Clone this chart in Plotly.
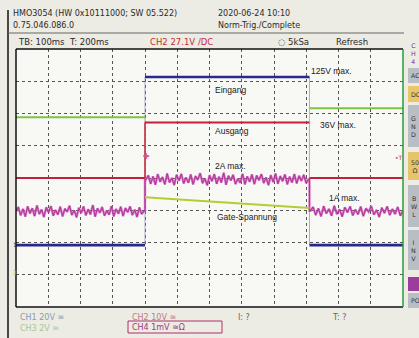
import numpy as np
import plotly.graph_objects as go

# ---------------- data (screen divisions, time in ms) ----------------
t_range = [-400, 800]          # 12 div x 100 ms
t_on, t_off = 0, 510

eingang_t = [-400, t_on, t_on, t_off, t_off, 800]
eingang_y = [1.92, 1.92, 7.13, 7.13, 1.92, 1.92]

ausgang_t = [-400, t_on, t_on, t_off, t_off, 800]
ausgang_y = [4.00, 4.00, 5.72, 5.72, 4.00, 4.00]

gate_t = [-400, t_on, t_on, t_off, t_off, 800]
gate_y = [5.88, 5.88, 3.40, 3.07, 6.16, 6.16]

strom_left = [2.97, 3.10, 2.84, 3.04, 2.80, 3.12, 2.90, 3.06, 2.82, 3.15, 2.88, 3.02, 2.79, 3.09, 2.93, 3.13, 2.83, 3.01, 2.86, 3.11,
              2.81, 3.05, 2.95, 3.14, 2.85, 3.00, 2.78, 3.08, 2.91, 3.12, 2.84, 3.03, 2.87, 3.16, 2.80, 3.06, 2.92, 3.10, 2.83, 2.99,
              2.86, 3.13, 2.81, 3.04, 2.89, 3.11, 2.82, 3.07, 2.94, 3.12, 2.85, 3.02, 2.79, 3.09, 2.88, 2.98]
strom_pulse = [3.95, 4.08, 3.82, 4.05, 3.79, 4.12, 3.88, 4.03, 3.80, 4.14, 3.86, 4.00, 3.78, 4.10, 3.91, 4.13, 3.83, 4.02, 3.85, 4.11,
               3.80, 4.06, 3.94, 4.15, 3.84, 3.99, 3.77, 4.09, 3.90, 4.12, 3.82, 4.04, 3.86, 4.16, 3.79, 4.07, 3.92, 4.10, 3.81, 3.98,
               3.85, 4.13, 3.80, 4.05, 3.88, 4.11, 3.81, 4.08, 3.93, 4.12, 3.84, 4.02, 3.78, 4.09, 3.87, 4.14, 3.82, 4.06, 3.90, 4.11,
               3.80, 4.04, 3.86, 4.12, 3.83, 4.07, 3.91, 4.10, 3.84, 3.96]
strom_right = [2.98, 3.10, 2.85, 3.06, 2.81, 3.13, 2.90, 3.04, 2.83, 3.14, 2.88, 3.03, 2.80, 3.09, 2.93, 3.12, 2.84, 3.02, 2.87, 3.11,
               2.82, 3.06, 2.95, 3.13, 2.86, 3.01, 2.79, 3.08, 2.91, 3.12, 2.85, 3.04, 2.88, 3.10, 2.83, 2.99]

labels = ["Eingang", "Ausgang", "2A max.", "Gate-Spannung", "125V max.", "36V max.", "1A max."]
label_t = [211, 211, 211, 217, 508, 536, 564]
label_y = [6.73, 5.46, 4.37, 2.79, 7.32, 5.64, 3.38]

# ---------------- layout helpers ----------------
W, H = 419, 338
X0, X1, Y0, Y1 = 16, 403, 49, 307

def px(x):
    return (x - X0) / (X1 - X0)

def py(y):
    return (Y1 - y) / (Y1 - Y0)

FONT = "DejaVu Sans"
BLUE = "#27298c"
RED = "#c41e3a"
GREEN = "#7cc545"
YGREEN = "#b5cc35"
MAG = "#b0399e"


def flats(t, y):
    """horizontal parts of a step trace (pairs of points), separated by gaps"""
    xs, ys = [], []
    for i in range(0, len(t), 2):
        xs += [t[i], t[i + 1], None]
        ys += [y[i], y[i + 1], None]
    return xs, ys


def edges(t, y):
    """vertical transitions of a step trace"""
    xs, ys = [], []
    for i in range(1, len(t) - 1, 2):
        xs += [t[i], t[i + 1], None]
        ys += [y[i], y[i + 1], None]
    return xs, ys


fig = go.Figure()

# faint transitions (fast edges are drawn dim on the scope)
for t, y, c in [(eingang_t, eingang_y, "#8c8cc0"), (ausgang_t, ausgang_y, "#d07080"), (gate_t, gate_y, "#c8cc80")]:
    ex, ey = edges(t, y)
    fig.add_trace(go.Scatter(x=ex, y=ey, mode="lines", line=dict(color=c, width=1), opacity=0.7, hoverinfo="skip"))

# current (CH4) noisy trace
s_t = list(np.linspace(-400, t_on - 3, len(strom_left))) + [t_on, t_on] + \
      list(np.linspace(t_on + 3, t_off - 3, len(strom_pulse))) + [t_off, t_off] + \
      list(np.linspace(t_off + 3, 800, len(strom_right)))
s_y = strom_left + [strom_left[-1], strom_pulse[0]] + strom_pulse + [strom_pulse[-1], strom_right[0]] + strom_right
fig.add_trace(go.Scatter(x=s_t, y=s_y, mode="lines", line=dict(color="#d45ab8", width=2.4), opacity=0.75, hoverinfo="skip"))
fig.add_trace(go.Scatter(x=s_t, y=s_y, mode="lines", line=dict(color=MAG, width=1.1), hoverinfo="skip"))

ax, ay = flats(ausgang_t, ausgang_y)
fig.add_trace(go.Scatter(x=ax, y=ay, mode="lines", line=dict(color=RED, width=2), hoverinfo="skip"))
# red rising edge is clearly visible at the trigger point
fig.add_trace(go.Scatter(x=ausgang_t[1:3], y=ausgang_y[1:3], mode="lines", line=dict(color=RED, width=1.3), hoverinfo="skip"))

gx, gy = flats(gate_t, gate_y)
fig.add_trace(go.Scatter(x=gx[:3] + gx[6:], y=gy[:3] + gy[6:], mode="lines", line=dict(color=GREEN, width=2), hoverinfo="skip"))
fig.add_trace(go.Scatter(x=gx[3:5], y=gy[3:5], mode="lines", line=dict(color=YGREEN, width=2), hoverinfo="skip"))

bx, by = flats(eingang_t, eingang_y)
fig.add_trace(go.Scatter(x=bx, y=by, mode="lines", line=dict(color=BLUE, width=2.6), hoverinfo="skip"))

for txt_, xx, yy in zip(labels, label_t, label_y):
    fig.add_annotation(x=xx, y=yy, text=txt_, showarrow=False, xanchor="left", yanchor="middle",
                       font=dict(family="Liberation Sans", size=8.5, color="#1a1a1a"))

shapes = []
# frames
shapes.append(dict(type="line", xref="paper", yref="paper", x0=px(8), x1=px(8), y0=py(10), y1=py(338),
                   line=dict(color="#111", width=1.5)))
shapes.append(dict(type="line", xref="paper", yref="paper", x0=px(8), x1=px(404), y0=py(33), y1=py(33),
                   line=dict(color="#666", width=1)))
shapes.append(dict(type="line", xref="paper", yref="paper", x0=0, x1=1, y0=1, y1=1, line=dict(color="#111", width=1.5)))
shapes.append(dict(type="line", xref="paper", yref="paper", x0=0, x1=1, y0=0, y1=0, line=dict(color="#111", width=1.5)))
shapes.append(dict(type="line", xref="paper", yref="paper", x0=0, x1=0, y0=0, y1=1, line=dict(color="#111", width=1.5)))
shapes.append(dict(type="line", xref="paper", yref="paper", x0=1, x1=1, y0=0, y1=1, line=dict(color="#2e9a3a", width=1.5)))

# right side button panel
buttons = [(43, 63, None, "C<br>H<br>4", "#8a2f8a"), (68, 83, "#b9bec4", "AC", "#333"), (86, 102, "#e9c766", "DC", "#333"),
           (105, 147, "#b9bec4", "G<br>N<br>D", "#333"), (152, 180, "#e6c46a", "50<br>Ω", "#333"),
           (185, 227, "#b9bec4", "B<br>W<br>L", "#333"), (230, 270, "#b9bec4", "I<br>N<br>V", "#333"),
           (277, 291, "#9c3c9c", "", "#fff"), (293, 308, "#b9bec4", "PO", "#333")]
for ya, yb, fill, t_, col in buttons:
    if fill:
        shapes.append(dict(type="rect", xref="paper", yref="paper", x0=px(408), x1=px(421), y0=py(yb), y1=py(ya),
                           fillcolor=fill, line=dict(width=0)))
    if t_:
        fig.add_annotation(xref="paper", yref="paper", x=px(408.5), y=py((ya + yb) / 2), text=t_,
                           showarrow=False, xanchor="left", yanchor="middle",
                           font=dict(family=FONT, size=6.3, color=col))

# CH4 box at bottom
shapes.append(dict(type="rect", xref="paper", yref="paper", x0=px(128), x1=px(222), y0=py(333), y1=py(321),
                   line=dict(color="#b0306a", width=1)))
fig.update_layout(shapes=shapes)


def txt(x, y, s, color="#2a2a2a", size=8.5, family=FONT, anchor="left"):
    fig.add_annotation(xref="paper", yref="paper", x=px(x), y=py(y), text=s, showarrow=False,
                       xanchor=anchor, yanchor="middle", font=dict(family=family, size=size, color=color))


txt(11, 14, "HMO3054 (HW 0x10111000; SW 05.522)", size=8)
txt(11, 25, "0.75.046.086.0", size=8)
txt(216, 14, "2020-06-24 10:10", size=8)
txt(216, 25, "Norm-Trig./Complete", size=8)
txt(16, 42, "TB: 100ms  T: 200ms", size=8.5)
txt(148, 42, "CH2 27.1V /DC", color="#c0303a", size=8.5)
txt(276, 42, "◌ 5kSa", size=8.5)
txt(334, 42, "Refresh", size=8.5)
txt(18, 317, "CH1 20V ≅", color="#8a9cb2", size=8)
txt(18, 328, "CH3 2V ≅", color="#a4c89a", size=8)
txt(130, 317, "CH2 10V ≅", color="#c07a86", size=8)
txt(130, 327, "CH4 1mV ≅Ω", color="#9a3a7a", size=8)
txt(236, 317, "I: ?", color="#6a6a6a", size=8)
txt(330, 317, "T: ?", color="#6a6a6a", size=8)

# markers: trigger position, trigger level, channel marks
txt(141, 156, "✚", color="#d05a8a", size=8)
txt(393, 157, "•T", color="#c0303a", size=6)
txt(11, 244, "1", color=BLUE, size=6)
txt(11, 272, "3", color="#7ab84a", size=6)

fig.update_layout(
    width=W, height=H,
    margin=dict(l=X0, r=W - X1, t=Y0, b=H - Y1, pad=0),
    paper_bgcolor="#ecebe4", plot_bgcolor="#f8f8f5",
    showlegend=False,
    xaxis=dict(range=t_range, dtick=100, tick0=0, showticklabels=False, ticks="", zeroline=False,
               showgrid=True, gridcolor="#555", gridwidth=1, griddash="dot", fixedrange=True),
    yaxis=dict(range=[0, 8], dtick=1, tick0=0, showticklabels=False, ticks="", zeroline=False,
               showgrid=True, gridcolor="#555", gridwidth=1, griddash="dot", fixedrange=True),
)

fig.write_html("out.html", config={"displayModeBar": False},
               post_script="document.body.style.margin='0';document.body.style.padding='0';")
